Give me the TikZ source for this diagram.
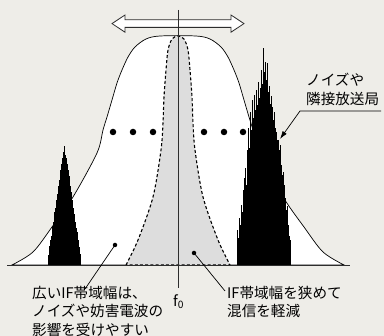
\documentclass[tikz,border=0pt]{standalone}
\usepackage{fontspec}
\setmainfont{Noto Sans CJK JP}
\usetikzlibrary{arrows.meta}
\definecolor{paper}{RGB}{238,237,232}
\definecolor{narrowgray}{RGB}{221,221,221}
\definecolor{linegray}{RGB}{45,45,45}

\begin{document}
\begin{tikzpicture}[x=1pt,y=-1pt,>={Latex[length=8pt,width=5pt]},
  wideband/.style={draw=black,line width=0.7pt,fill=white},
  narrowband/.style={draw=black,line width=1.1pt,dash pattern=on 3pt off 2.2pt,fill=narrowgray},
  spike/.style={black,line width=0.75pt},
  dotmark/.style={circle,fill=black,inner sep=0pt,minimum size=#1},
  dotmark/.default=6.5pt,
  leader/.style={draw=black,line width=0.7pt},
  lbl/.style={inner sep=0pt,align=left,font=\fontsize{14.6}{18.5}\selectfont}]
% The paper
\useasboundingbox (0,0) rectangle (384,336);
\fill[paper] (0,0) rectangle (384,336);
% The wide IF band
\draw[wideband] plot[smooth] coordinates {(12,265) (33,252) (52,227) (73,197) (97,153)
  (103,130) (107,117) (112,100) (117,83) (122,70) (128,57) (135,47) (146,39) (160,36)
  (196,36) (210,39) (221,47) (228,57) (234,70) (239,83) (244,100) (249,117) (253,130)
  (259,153) (283,197) (304,227) (323,252) (344,265)} -- cycle;
% The narrow IF band
\draw[narrowband] plot[smooth] coordinates {(126,265) (138,240) (153,197) (161,150)
  (163,123) (164,97) (166,70) (168,50) (172,39) (178,36) (184,39) (188,50) (190,70)
  (192,97) (193,123) (195,150) (203,197) (218,240) (230,265)} -- cycle;
% The dots
\foreach \d [count=\i] in {113,133,153,204,224,243}
  \node[dotmark] (dot\i) at (\d,132) {};
% The stations
\foreach \bx/\btop in {48/255,49/246,50/240,51/236,52/226,53/222,54/212,55/208,56/200,
  57/194,58/186,59/180,60/170,61/164,62/158,63/152,64/146,65/155,66/158,67/164,68/170,
  69/176,70/186,71/192,72/200,73/208,74/214,75/222,76/228,77/232,78/240,79/247,80/254}
  \draw[spike] (\bx,265) -- (\bx,\btop);
\foreach \bx/\btop in {237/230,238/238,239/218,240/225,241/205,242/212,243/190,244/178,
  245/168,246/185,247/150,248/128,249/148,250/112,251/130,252/100,253/118,254/95,255/110,
  256/90,257/105,258/82,259/98,260/88,261/70,262/84,263/48,264/72,265/62,266/80,267/63,
  268/92,269/86,270/104,271/96,272/107,273/120,274/112,275/128,276/132,277/140,278/140,
  279/150,280/145,281/165,282/175,283/172,284/185,285/198,286/210,287/206,288/225,
  289/236,290/240}
  \draw[spike] (\bx,265) -- (\bx,\btop);
% The baseline and the center
\draw[linegray,line width=0.8pt] (7,265) -- (350,265);
\draw[fill=white,draw=linegray,line width=0.8pt] (112,23.6) -- (125,15) -- (125,19.8)
  -- (231,19.8) -- (231,15) -- (244,23.6) -- (231,32.2) -- (231,27.4) -- (125,27.4)
  -- (125,32.2) -- cycle;
\draw[linegray,line width=0.8pt] (178,10) -- (178,288);
\node[lbl,anchor=north] (fzero) at (178.5,294) {f\textsubscript{0}};
% The labels
\node[lbl,anchor=north west] (lblWide) at (32,286) {広いIF帯域幅は、\\ノイズや妨害電波の\\影響を受けやすい};
\node[lbl,anchor=north west] (lblNarrow) at (227,286) {IF帯域幅を狭めて\\混信を軽減};
\node[lbl,anchor=north west] (lblNoise) at (306,73) {ノイズや\\隣接放送局};
\node[dotmark=4.5pt] (ptWide) at (115,245) {};
\node[dotmark=4.5pt] (ptNarrow) at (194,253) {};
\coordinate (endWide) at (85,289);
\coordinate (endNarrow) at (225,291);
\coordinate (ulR) at (381,111);
\coordinate (ulL) at (300,111);
\coordinate (tipNoise) at (280,139);
\draw[leader] (ptWide.center) -- (endWide);
\draw[leader] (ptNarrow.center) -- (endNarrow);
\draw[leader,->] (ulR) -- (ulL) -- (tipNoise);
\end{tikzpicture}
\end{document}
